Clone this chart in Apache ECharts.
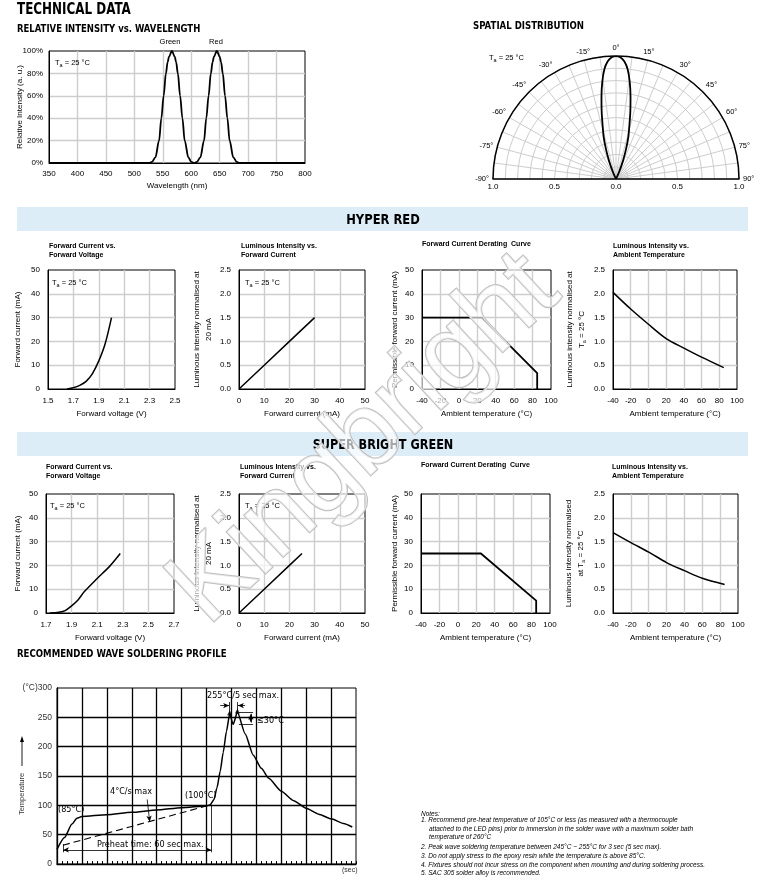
<!DOCTYPE html>
<html><head><meta charset="utf-8">
<script src="https://cdn.jsdelivr.net/npm/echarts@6/dist/echarts.min.js"></script>
<style>html,body{margin:0;padding:0;background:#fff}#c{width:763px;height:881px}</style>
</head><body><div id="c"></div>
<script>
// ---------------- DATA ----------------
// Relative intensity vs wavelength
const specNm  = [350,526,531,537,543.5,547.5,551.5,555.5,558.5,561,566,571,573.5,576.5,580.5,584.5,588.5,595,600,605.5,610,616,622.5,626.5,630.5,634.5,637.5,640,645,650,652.5,655.5,659.5,663.5,667.5,674,680,685,800];
const specPct = [0,0,1,5,20,40,60,80,90,95,100,95,90,80,60,40,20,5,1,0,1,5,20,40,60,80,90,95,100,95,90,80,60,40,20,5,1,0,0];
// Spatial distribution
const lobeAngle = [-26,-23.5,-21,-18.5,-16.5,-14,-12,-10,-8,-6,-4,-2,0,2,4,6,8,10,12,14,16.5,18.5,21,23.5,26];
const lobeR     = [0,0.07,0.16,0.26,0.35,0.45,0.56,0.68,0.8,0.9,0.96,0.99,1,0.99,0.96,0.9,0.8,0.68,0.56,0.45,0.35,0.26,0.16,0.07,0];
// HYPER RED
const hrIvV = [1.65,1.70,1.75,1.80,1.85,1.90,1.95,2.00];
const hrIvI = [0,0.5,1.5,3.2,6.5,11.8,19,30];
const hrLiI = [0,10,20,30];
const hrLiL = [0,0.5,1.0,1.5];
const hrDrT = [-40,25,85,85];
const hrDrI = [30,30,6.7,0];
const hrLtT = [-40,-20,0,20,40,60,85];
const hrLtL = [2.03,1.68,1.36,1.06,0.86,0.67,0.45];
// SUPER BRIGHT GREEN
const sgIvV = [1.73,1.80,1.85,1.90,1.95,2.00,2.10,2.20,2.28];
const sgIvI = [0,0.3,1,3,5.5,9,14.5,19.8,25];
const sgLiI = [0,10,20,25];
const sgLiL = [0,0.5,1.0,1.25];
const sgDrT = [-40,25,85,85];
const sgDrI = [25,25,5.2,0];
const sgLtT = [-40,-20,0,20,40,60,85];
const sgLtL = [1.69,1.48,1.28,1.06,0.89,0.73,0.6];
// Wave soldering profile (x in grid units of time)
const solderSec  = [0,0.3,0.6,0.8,1.0,2,3,4,5,6,6.15,6.3,6.42,6.55,6.67,6.8,6.93,7.07,7.24,7.55,7.87,8.2,8.5,9,9.5,10,10.5,11,11.5,11.85];
const solderTemp = [25,45,68,78,81,84,88,92,96,99,101,110,130,158,190,226,256,238,259,222,186,163,146,124,108,95,85,77,69,63];
const dashSec  = [0.24,6.0];
const dashTemp = [32,99];

// ---------------- HELPERS ----------------
const FONT = "'Liberation Sans', Arial, sans-serif";
const NARROW = "'Liberation Sans Narrow','DejaVu Sans Condensed','Liberation Sans',sans-serif";
const zip = (a,b)=>a.map((v,i)=>[v,b[i]]);
const subRich = {s:{fontSize:5.5, fontFamily:FONT, color:'#000', padding:[4,0,0,0]}};

function axis(gi, min, max, interval, extra){
  extra = extra||{};
  const baseLabel = {fontFamily:FONT, fontSize:8, color:'#000', margin:8};
  const o = Object.assign({
    type:'value', gridIndex:gi, min, max, interval,
    axisLine:{show:true, onZero:false, lineStyle:{color:'#000', width:1}},
    axisTick:{show:false},
    splitLine:{show:true, showMinLine:false, showMaxLine:false, lineStyle:{color:'#cdcdcd', width:1.4}},
    nameLocation:'middle', nameMoveOverlap:false,
    nameTextStyle:{fontFamily:FONT, fontSize:8, color:'#000', lineHeight:12, rich:subRich}
  }, extra);
  o.axisLabel = Object.assign({}, baseLabel, extra.axisLabel||{});
  return o;
}
const f1 = v=>v.toFixed(1);

const gridRects = [
  [49,51,256,112],   //0 spectrum
  [493,56,246,123],  //1 polar baseline
  [48,270,127,119],  //2 HR IV
  [239,270,126,119], //3 HR LI
  [422,270,129,119], //4 HR derating
  [613,270,124,119], //5 HR LT
  [46,494,128,119],  //6 SG IV
  [239,494,126,119], //7 SG LI
  [421,494,129,119], //8 SG derating
  [613,494,125,119], //9 SG LT
  [57,688,299,176]   //10 soldering
];
const grid = gridRects.map((r,i)=>({left:r[0], top:r[1], width:r[2], height:r[3], containLabel:false,
  show: i!==1, borderColor:'#000', borderWidth:1, backgroundColor:'transparent'}));

const xAxis = [
  axis(0,350,800,50,{name:'Wavelength (nm)', nameGap:17, axisLabel:{margin:7}}),
  axis(1,-1,1,0.5,{splitLine:{show:false}, axisLine:{show:true,lineStyle:{color:'#000',width:1.5}}, axisLabel:{margin:4, formatter:v=>Math.abs(v).toFixed(1)}}),
  axis(2,1.5,2.5,0.2,{name:'Forward voltage (V)', nameGap:19, axisLabel:{formatter:f1}}),
  axis(3,0,50,10,{name:'Forward current (mA)', nameGap:19}),
  axis(4,-40,100,20,{name:'Ambient temperature (°C)', nameGap:19}),
  axis(5,-40,100,20,{name:'Ambient temperature (°C)', nameGap:19}),
  axis(6,1.7,2.7,0.2,{name:'Forward voltage (V)', nameGap:19, axisLabel:{formatter:f1}}),
  axis(7,0,50,10,{name:'Forward current (mA)', nameGap:19}),
  axis(8,-40,100,20,{name:'Ambient temperature (°C)', nameGap:19}),
  axis(9,-40,100,20,{name:'Ambient temperature (°C)', nameGap:19}),
  axis(10,0,12,1,{axisLabel:{show:false}, axisLine:{show:true,lineStyle:{color:'#000',width:1.3}},
     axisTick:{show:true, inside:true, length:3, lineStyle:{color:'#000'}},
     minorTick:{show:true, splitNumber:5, length:3, lineStyle:{color:'#000'}},
     splitLine:{show:true, showMinLine:false, showMaxLine:false, lineStyle:{color:'#000', width:1.3}}})
];
const yAxis = [
  axis(0,0,100,20,{name:'Relative Intensity (a. u.)', nameRotate:90, nameGap:23.5, axisLabel:{margin:6, formatter:v=>v+'%'}}),
  axis(1,0,1,0.5,{show:false}),
  axis(2,0,50,10,{name:'Forward current (mA)', nameRotate:90, nameGap:24}),
  axis(3,0,2.5,0.5,{name:'Luminous intensity normalised at\n20 mA', nameRotate:90, nameGap:24, axisLabel:{formatter:f1}}),
  axis(4,0,50,10,{name:'Permissible forward current (mA)', nameRotate:90, nameGap:21}),
  axis(5,0,2.5,0.5,{name:'Luminous intensity normalised at\nT{s|a} = 25 °C', nameRotate:90, nameGap:25, axisLabel:{formatter:f1}}),
  axis(6,0,50,10,{name:'Forward current (mA)', nameRotate:90, nameGap:22}),
  axis(7,0,2.5,0.5,{name:'Luminous intensity normalised at\n20 mA', nameRotate:90, nameGap:24, axisLabel:{formatter:f1}}),
  axis(8,0,50,10,{name:'Permissible forward current (mA)', nameRotate:90, nameGap:20}),
  axis(9,0,2.5,0.5,{name:'Luminous intensity normalised\nat T{s|a} = 25 °C', nameRotate:90, nameGap:26, axisLabel:{formatter:f1}}),
  axis(10,0,300,50,{axisLine:{show:true,lineStyle:{color:'#000',width:1.3}},
     axisLabel:{margin:5, fontSize:8.5, color:'#333', formatter:v=>v===300?'(°C)300':String(v)},
     splitLine:{show:true, showMinLine:false, showMaxLine:false, lineStyle:{color:'#000', width:1.3}}})
];

function ln(gi, x, y, extra){
  return Object.assign({type:'line', xAxisIndex:gi, yAxisIndex:gi, data:zip(x,y), symbol:'none',
    lineStyle:{color:'#000', width:1.5}, animation:false, silent:true, z:5}, extra||{});
}

const series = [
  ln(0, specNm, specPct, {smooth:0.35, smoothMonotone:'x', lineStyle:{color:'#000', width:1.8}}),
  {type:'line', coordinateSystem:'polar', polarIndex:0, data:zip(lobeR, lobeAngle), symbol:'none', smooth:0.3,
   lineStyle:{color:'#000', width:1.8}, animation:false, silent:true, z:5},
  ln(2, hrIvV, hrIvI, {smooth:0.3}),
  ln(3, hrLiI, hrLiL),
  ln(4, hrDrT, hrDrI, {lineStyle:{color:'#000', width:1.8}}),
  ln(5, hrLtT, hrLtL, {smooth:0.3}),
  ln(6, sgIvV, sgIvI, {smooth:0.3}),
  ln(7, sgLiI, sgLiL),
  ln(8, sgDrT, sgDrI, {lineStyle:{color:'#000', width:1.8}}),
  ln(9, sgLtT, sgLtL, {smooth:0.3}),
  ln(10, solderSec, solderTemp, {smooth:0.2, smoothMonotone:'x', lineStyle:{color:'#000', width:1.5}}),
  ln(10, dashSec, dashTemp, {lineStyle:{color:'#000', width:1.1, type:[7,4]}}),
  {type:'line', xAxisIndex:10, yAxisIndex:10, data:[], silent:true, animation:false,
   markLine:{silent:true, animation:false, symbol:['none','none'], symbolSize:[4,6], label:{show:false},
     lineStyle:{color:'#000', width:0.8, type:'solid'},
     data:[
       [{coord:[0.24,24], symbol:'arrow'},{coord:[6.2,24], symbol:'arrow'}],
       [{coord:[6.2,20]},{coord:[6.2,99]}],
       [{coord:[0.24,20]},{coord:[0.24,34]}],
       [{coord:[3.62,110]},{coord:[3.72,72], symbol:'arrow'}],
       [{coord:[6.55,270]},{coord:[6.91,270], symbol:'arrow'}],
       [{coord:[7.55,270]},{coord:[7.26,270], symbol:'arrow'}],
       [{coord:[6.93,256]},{coord:[6.93,276]}],
       [{coord:[7.24,259]},{coord:[7.24,276]}],
       [{coord:[7.3,259]},{coord:[7.87,259]}],
       [{coord:[7.3,238]},{coord:[7.87,238]}],
       [{coord:[7.78,241], symbol:'arrow'},{coord:[7.78,256], symbol:'arrow'}]
     ]}},
  {type:'scatter', xAxisIndex:10, yAxisIndex:10, data:[[7.24,261],[6.93,258]], symbol:'triangle', symbolSize:5,
   itemStyle:{color:'#000'}, silent:true, animation:false, z:6}
];

// ---------------- TEXT / DECOR ----------------
function txt(x,y,text,opt){
  opt = opt||{};
  return {type:'text', left:x, top:y, silent:true, z:opt.z||50, rotation:opt.rotation||0,
    style:Object.assign({text, fill:'#000', font:opt.font||('7.5px '+FONT)}, opt.style||{})};
}
function head(x,y,text,size,sx,align){
  return {type:'text', x, y, scaleX:sx, silent:true, z:50,
    style:{text, fill:'#000', font:'bold '+size+'px '+NARROW, align:align||'left', verticalAlign:align?'middle':'top'}};
}
function taLabel(x,y){
  return {type:'text', left:x, top:y, silent:true, z:50,
    style:{text:'T{s|a} = 25 °C', fill:'#000', font:'7.5px '+FONT, rich:subRich}};
}
const T = (s)=>'bold '+s+'px '+FONT;
const NOTE = 'italic 6.5px '+FONT;
const ANN = '9px '+NARROW;

const graphic = [
  {type:'rect', shape:{x:17,y:207,width:731,height:24}, style:{fill:'#dcedf8'}, silent:true, z:0},
  {type:'rect', shape:{x:17,y:432,width:731,height:24}, style:{fill:'#dcedf8'}, silent:true, z:0},
  head(17,2.5,'TECHNICAL DATA',15,0.885),
  head(17,24,'RELATIVE INTENSITY vs. WAVELENGTH',10.5,0.9),
  head(473,21,'SPATIAL DISTRIBUTION',10.5,0.91),
  head(17,649,'RECOMMENDED WAVE SOLDERING PROFILE',10.5,0.91),
  head(383,220,'HYPER RED',13.5,0.95,'center'),
  head(383,445,'SUPER BRIGHT GREEN',13.5,0.93,'center'),
  {type:'text', x:170, y:42, silent:true, style:{text:'Green', font:'7.5px '+FONT, fill:'#000', align:'center', verticalAlign:'middle'}},
  {type:'text', x:216, y:42, silent:true, style:{text:'Red', font:'7.5px '+FONT, fill:'#000', align:'center', verticalAlign:'middle'}},
  taLabel(55,59), taLabel(489,54),
  taLabel(52,279), taLabel(245,279), taLabel(50,502), taLabel(245,502),
  // chart titles
  txt(49,242,'Forward Current vs.\nForward Voltage',{font:T(7),style:{lineHeight:9}}),
  txt(241,242,'Luminous Intensity vs.\nForward Current',{font:T(7),style:{lineHeight:9}}),
  txt(422,241,'Forward Current Derating  Curve',{font:T(7)}),
  txt(613,242,'Luminous Intensity vs.\nAmbient Temperature',{font:T(7),style:{lineHeight:9}}),
  txt(46,463,'Forward Current vs.\nForward Voltage',{font:T(7),style:{lineHeight:9}}),
  txt(240,463,'Luminous Intensity vs.\nForward Current',{font:T(7),style:{lineHeight:9}}),
  txt(421,462,'Forward Current Derating  Curve',{font:T(7)}),
  txt(612,463,'Luminous Intensity vs.\nAmbient Temperature',{font:T(7),style:{lineHeight:9}}),
  // soldering annotations
  txt(110,787,'4°C/s max',{font:ANN}),
  txt(58,805,'(85°C)',{font:ANN}),
  txt(185,791,'(100°C)',{font:ANN}),
  txt(97,840,'Preheat time: 60 sec max.',{font:ANN}),
  txt(207,691,'255°C/5 sec max.',{font:ANN}),
  txt(257,716,'≤30°C',{font:ANN}),
  txt(342,867,'(sec)',{font:'7px '+FONT, style:{fill:'#333'}}),
  {type:'text', x:22, y:794, rotation:Math.PI/2, silent:true, style:{text:'Temperature', font:'7.5px '+FONT, fill:'#333', align:'center', verticalAlign:'middle'}},
  {type:'line', shape:{x1:22,y1:766,x2:22,y2:740}, style:{stroke:'#000', lineWidth:0.9}, silent:true},
  {type:'polygon', shape:{points:[[22,736],[20,742],[24,742]]}, style:{fill:'#000'}, silent:true},
  // notes
  txt(421,811,'Notes:',{font:NOTE}),
  txt(421,817,'1. Recommend pre-heat temperature of 105°C or less (as measured with a thermocouple',{font:NOTE}),
  txt(429,826,'attached to the LED pins) prior to immersion in the solder wave with a maximum solder bath',{font:NOTE}),
  txt(429,834,'temperature of 260°C',{font:NOTE}),
  txt(421,844,'2. Peak wave soldering temperature between 245°C ~ 255°C for 3 sec (5 sec max).',{font:NOTE}),
  txt(421,853,'3. Do not apply stress to the epoxy resin while the temperature is above 85°C.',{font:NOTE}),
  txt(421,862,'4. Fixtures should not incur stress on the component when mounting and during soldering process.',{font:NOTE}),
  txt(421,870,'5. SAC 305 solder alloy is recommended.',{font:NOTE}),
  // watermark
  {type:'text', x:365, y:440, rotation:43*Math.PI/180, silent:true, z:100,
   style:{text:'Kingbright', font:'108px '+FONT, fill:'rgba(255,255,255,0.65)', stroke:'#bdbdbd', lineWidth:1.8, align:'center', verticalAlign:'middle'}}
];

const option = {
  animation:false,
  backgroundColor:'#fff',
  grid, xAxis, yAxis,
  polar:{center:[616,179], radius:123},
  angleAxis:{type:'value', polarIndex:0, min:-90, max:90, interval:15, startAngle:180, endAngle:0, clockwise:true,
    axisLine:{show:true, lineStyle:{color:'#000', width:1.5}},
    axisTick:{show:false},
    axisLabel:{fontFamily:FONT, fontSize:7.5, color:'#000', margin:4, formatter:v=>v+'°'},
    splitLine:{show:true, lineStyle:{color:'#cdcdcd', width:1}},
    minorSplitLine:{show:true, lineStyle:{color:'#cdcdcd', width:1}},
    minorTick:{show:false, splitNumber:2}},
  radiusAxis:{type:'value', polarIndex:0, min:0, max:1, interval:0.1,
    axisLine:{show:false}, axisTick:{show:false}, axisLabel:{show:false},
    splitLine:{show:true, lineStyle:{color:'#cdcdcd', width:1}}},
  series, graphic
};
const chart = echarts.init(document.getElementById('c'), null, {renderer:'canvas'});
chart.setOption(option);
</script></body></html>
